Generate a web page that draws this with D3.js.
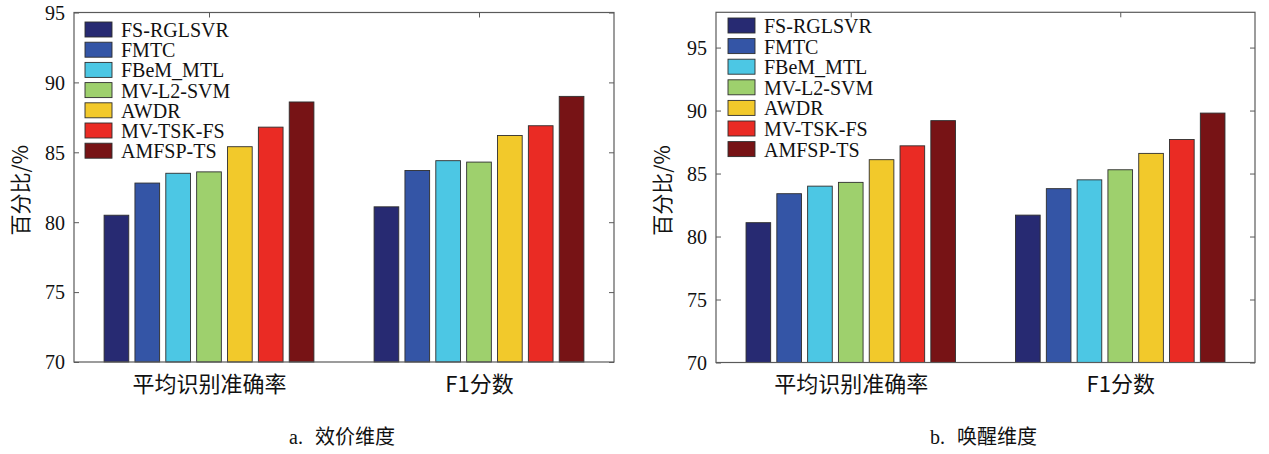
<!DOCTYPE html>
<html>
<head>
<meta charset="utf-8">
<script src="https://cdn.jsdelivr.net/npm/d3@7"></script>
<style>
  html, body { margin: 0; padding: 0; background: #fff; }
  svg { display: block; }
</style>
</head>
<body>
<svg id="chart" width="1269" height="454"></svg>
<script>
// Metric groups along the x axis
const categories = ["平均识别准确率", "F1分数"];
// Compared methods (one bar per method in each group)
const methods = ["FS-RGLSVR", "FMTC", "FBeM_MTL", "MV-L2-SVM", "AWDR", "MV-TSK-FS", "AMFSP-TS"];
const methodColors = ["#272a72", "#3455a6", "#4cc7e4", "#9ed06d", "#f2c92b", "#ea2b24", "#771315"];

// a. valence dimension (%)
const valenceAccuracy = [80.5, 82.8, 83.5, 83.6, 85.4, 86.8, 88.6];
const valenceF1 = [81.1, 83.7, 84.4, 84.3, 86.2, 86.9, 89.0];
// b. arousal dimension (%)
const arousalAccuracy = [81.1, 83.4, 84.0, 84.3, 86.1, 87.2, 89.2];
const arousalF1 = [81.7, 83.8, 84.5, 85.3, 86.6, 87.7, 89.8];

const yTicks = [70, 75, 80, 85, 90, 95];
const yLabel = "百分比/%";
const captions = ["a.", "效价维度", "b.", "唤醒维度"];

const svg = d3.select("#chart");
const serif = "'Liberation Serif', 'Times New Roman', serif";
const cjk = "'Noto Sans CJK SC', 'Noto Sans', sans-serif";
const axisColor = "#5a5a5a";

function drawPanel(opts) {
  const { x0, x1, y0, y1, yMax, series, legendX, legendY, legendStep, yLabelX, caption } = opts;
  const W = x1 - x0, H = y1 - y0;
  const g = svg.append("g").attr("transform", `translate(${x0},${y0})`);

  const y = d3.scaleLinear().domain([70, yMax]).range([H, 0]);
  const xGroup = d3.scaleBand().domain(categories).range([0, W]).paddingInner(0.2).paddingOuter(0.1);
  const xBar = d3.scaleBand().domain(methods).range([0, xGroup.bandwidth()]).paddingInner(0.2).paddingOuter(0.1);
  const color = d3.scaleOrdinal().domain(methods).range(methodColors);

  // bars
  categories.forEach((cat, ci) => {
    const gg = g.append("g").attr("transform", `translate(${xGroup(cat)},0)`);
    gg.selectAll("rect").data(methods.map((m, mi) => ({ m, v: series[ci][mi] })))
      .join("rect")
      .attr("x", d => xBar(d.m))
      .attr("y", d => y(d.v))
      .attr("width", xBar.bandwidth())
      .attr("height", d => y(70) - y(d.v))
      .attr("fill", d => color(d.m))
      .attr("stroke", "#2e2e2e")
      .attr("stroke-width", 0.9);
  });

  // axes with inward ticks
  const left = d3.axisLeft(y).tickValues(yTicks).tickSize(-5).tickPadding(9).tickFormat(d3.format("d"));
  const right = d3.axisRight(y).tickValues(yTicks).tickSize(-5).tickFormat("");
  const xCenter = d3.scalePoint().domain(categories).range([xGroup(categories[0]) + xGroup.bandwidth() / 2,
                                                             xGroup(categories[1]) + xGroup.bandwidth() / 2]);
  const top = d3.axisTop(xCenter).tickSize(-5).tickFormat("");
  const bottom = d3.axisBottom(xCenter).tickSize(0).tickPadding(14);

  const ax = [
    g.append("g").call(left),
    g.append("g").attr("transform", `translate(${W},0)`).call(right),
    g.append("g").call(top),
    g.append("g").attr("transform", `translate(0,${H})`).call(bottom)
  ];
  ax.forEach(a => {
    a.select(".domain").remove();
    a.attr("font-family", null);
    a.selectAll(".tick line").attr("stroke", axisColor);
  });
  ax[0].selectAll("text").style("font-family", serif).style("font-size", "20px").attr("fill", "#111")
    .attr("dy", "0.34em");
  ax[3].selectAll("text").style("font-family", cjk).style("font-size", "22px").attr("fill", "#111");

  // surrounding box
  g.append("rect").attr("x", 0).attr("y", 0).attr("width", W).attr("height", H)
    .attr("fill", "none").attr("stroke", axisColor).attr("stroke-width", 1.2);

  // legend
  const lg = svg.append("g").attr("transform", `translate(${legendX},${legendY})`);
  methods.forEach((m, i) => {
    const row = lg.append("g").attr("transform", `translate(0,${i * legendStep})`);
    row.append("rect").attr("x", 0).attr("y", 0).attr("width", 27).attr("height", 15)
      .attr("fill", color(m)).attr("stroke", "#2e2e2e").attr("stroke-width", 0.9);
    row.append("text").attr("x", 36).attr("y", 15).text(m)
      .style("font-family", serif).style("font-size", "20px").attr("fill", "#111");
  });

  // y axis title
  svg.append("text")
    .attr("transform", `translate(${yLabelX},${y0 + H / 2 + 3}) rotate(-90)`)
    .attr("text-anchor", "middle").attr("dominant-baseline", "central")
    .style("font-family", cjk).style("font-size", "21px").attr("fill", "#111")
    .text(yLabel);

  // caption below the panel
  const cap = svg.append("text").attr("x", x0 + W / 2 - 2).attr("y", 444)
    .attr("text-anchor", "middle").attr("fill", "#111");
  cap.append("tspan").style("font-family", serif).style("font-size", "20px").text(caption[0]);
  cap.append("tspan").attr("dx", 12).style("font-family", cjk).style("font-size", "20px").text(caption[1]);
}

drawPanel({
  x0: 74, x1: 614, y0: 12.5, y1: 362, yMax: 95,
  series: [valenceAccuracy, valenceF1],
  legendX: 85, legendY: 22, legendStep: 20.2, yLabelX: 19,
  caption: [captions[0], captions[1]]
});

drawPanel({
  x0: 716, x1: 1255, y0: 12.3, y1: 362.5, yMax: 97.8,
  series: [arousalAccuracy, arousalF1],
  legendX: 728, legendY: 18, legendStep: 20.6, yLabelX: 661,
  caption: [captions[2], captions[3]]
});
</script>
</body>
</html>
